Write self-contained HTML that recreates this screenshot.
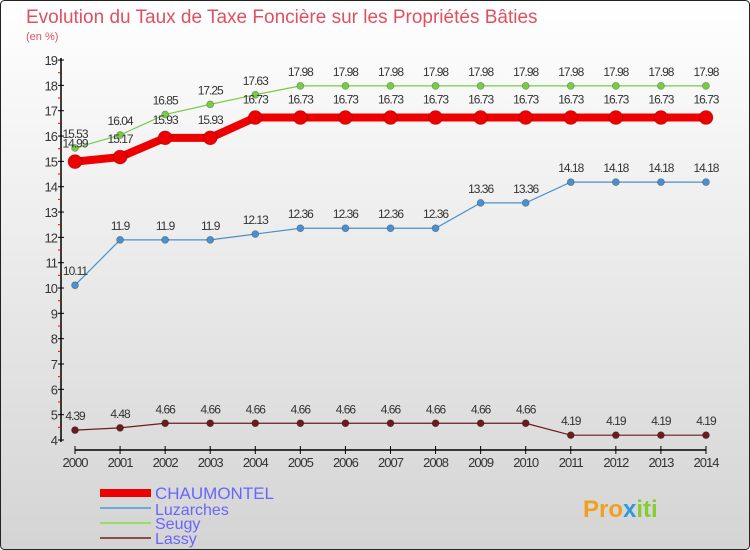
<!DOCTYPE html>
<html><head><meta charset="utf-8"><style>
body{margin:0;background:#fff}
svg{display:block;font-family:"Liberation Sans","DejaVu Sans",sans-serif}
</style></head><body>
<svg width="750" height="550" viewBox="0 0 750 550">
<defs><linearGradient id="bg" x1="0" y1="0" x2="0" y2="1"><stop offset="0" stop-color="#ffffff"/><stop offset="1" stop-color="#d4d4d4"/></linearGradient></defs>
<rect x="0.5" y="0.5" width="749" height="549" rx="4" fill="url(#bg)" stroke="#222"/>
<text x="26" y="23" font-size="19" fill="#e05060">Evolution du Taux de Taxe Foncière sur les Propriétés Bâties</text>
<text x="26" y="40" font-size="11" fill="#e05060">(en %)</text>
<g id="axes"></g><g id="series"></g>
<g>
<rect x="100" y="489" width="51" height="8" fill="#ee0000"/>
<text x="155" y="499" font-size="17" fill="#6666ff">CHAUMONTEL</text>
<rect x="100" y="507" width="51" height="2" fill="#6fa8dc"/>
<text x="155" y="515" font-size="16" fill="#6666ff">Luzarches</text>
<rect x="100" y="522" width="51" height="2" fill="#99dd66"/>
<text x="155" y="529" font-size="16" fill="#6666ff">Seugy</text>
<rect x="100" y="537" width="51" height="2" fill="#8b4c4c"/>
<text x="155" y="544" font-size="16" fill="#6666ff">Lassy</text>
</g>
<text x="583" y="517" font-size="24" font-weight="bold" fill="#f0a020">Pro<tspan fill="#3399dd">x</tspan><tspan fill="#88cc33">iti</tspan></text>
</svg>
<script>
const years=[2000,2001,2002,2003,2004,2005,2006,2007,2008,2009,2010,2011,2012,2013,2014];
const chaumontel=[14.99,15.17,15.93,15.93,16.73,16.73,16.73,16.73,16.73,16.73,16.73,16.73,16.73,16.73,16.73];
const luzarches=[10.11,11.9,11.9,11.9,12.13,12.36,12.36,12.36,12.36,13.36,13.36,14.18,14.18,14.18,14.18];
const seugy=[15.53,16.04,16.85,17.25,17.63,17.98,17.98,17.98,17.98,17.98,17.98,17.98,17.98,17.98,17.98];
const lassy=[4.39,4.48,4.66,4.66,4.66,4.66,4.66,4.66,4.66,4.66,4.66,4.19,4.19,4.19,4.19];
const yTicks=[4,5,6,7,8,9,10,11,12,13,14,15,16,17,18,19];
const NS="http://www.w3.org/2000/svg";
const X=i=>75+i*45.07, Y=v=>440-(v-4)*25.33;
function mk(t,a,p){const e=document.createElementNS(NS,t);for(const k in a)e.setAttribute(k,a[k]);p.appendChild(e);return e;}
const ax=document.getElementById('axes');
let l=mk('line',{x1:61,y1:58,x2:61,y2:442,stroke:'#000','stroke-width':1.5},ax);


l=mk('line',{x1:75,y1:450,x2:706,y2:450,stroke:'#000','stroke-width':1.5},ax);


yTicks.forEach(v=>{
 mk('line',{x1:58,x2:64,y1:Y(v),y2:Y(v),stroke:'#000'},ax);
 if(v<19) mk('line',{x1:58,x2:61,y1:Y(v+0.5),y2:Y(v+0.5),stroke:'#e00'},ax);
 const t=mk('text',{x:57,y:Y(v)+5,'text-anchor':'end','font-size':13,fill:'#333','letter-spacing':-1},ax);
 t.textContent=v;
 
 
});
years.forEach((y,i)=>{
 mk('line',{x1:X(i),x2:X(i),y1:446,y2:454,stroke:'#000'},ax);
 const t=mk('text',{x:X(i),y:467,'text-anchor':'middle','font-size':13,fill:'#333','letter-spacing':-1},ax);
 t.textContent=y;
 
 
});
const sg=document.getElementById('series');
function draw(vals,name,color,w,r,dy){
 const g=mk('g',{},sg);
 
 
 mk('polyline',{points:vals.map((v,i)=>X(i)+','+Y(v)).join(' '),fill:'none',stroke:color,'stroke-width':w},g);
 vals.forEach((v,i)=>{
  const c=mk('circle',{cx:X(i),cy:Y(v),r:r,fill:color,stroke:'rgba(0,0,0,0.3)','stroke-width':0.7},g);
  
  
  const t=mk('text',{x:X(i),y:Y(v)+dy,'text-anchor':'middle','font-size':12,fill:'#333','letter-spacing':-1},g);
  t.textContent=v;
  
  
 });
}
draw(lassy,'lassy','#6b1c1c',1.2,3.5,-10);
draw(luzarches,'luzarches','#4b90cc',1.2,3.5,-10);
draw(seugy,'seugy','#77cc44',1.2,3.5,-10);
draw(chaumontel,'chaumontel','#ee0000',8,7,-14);
</script>
</body></html>
